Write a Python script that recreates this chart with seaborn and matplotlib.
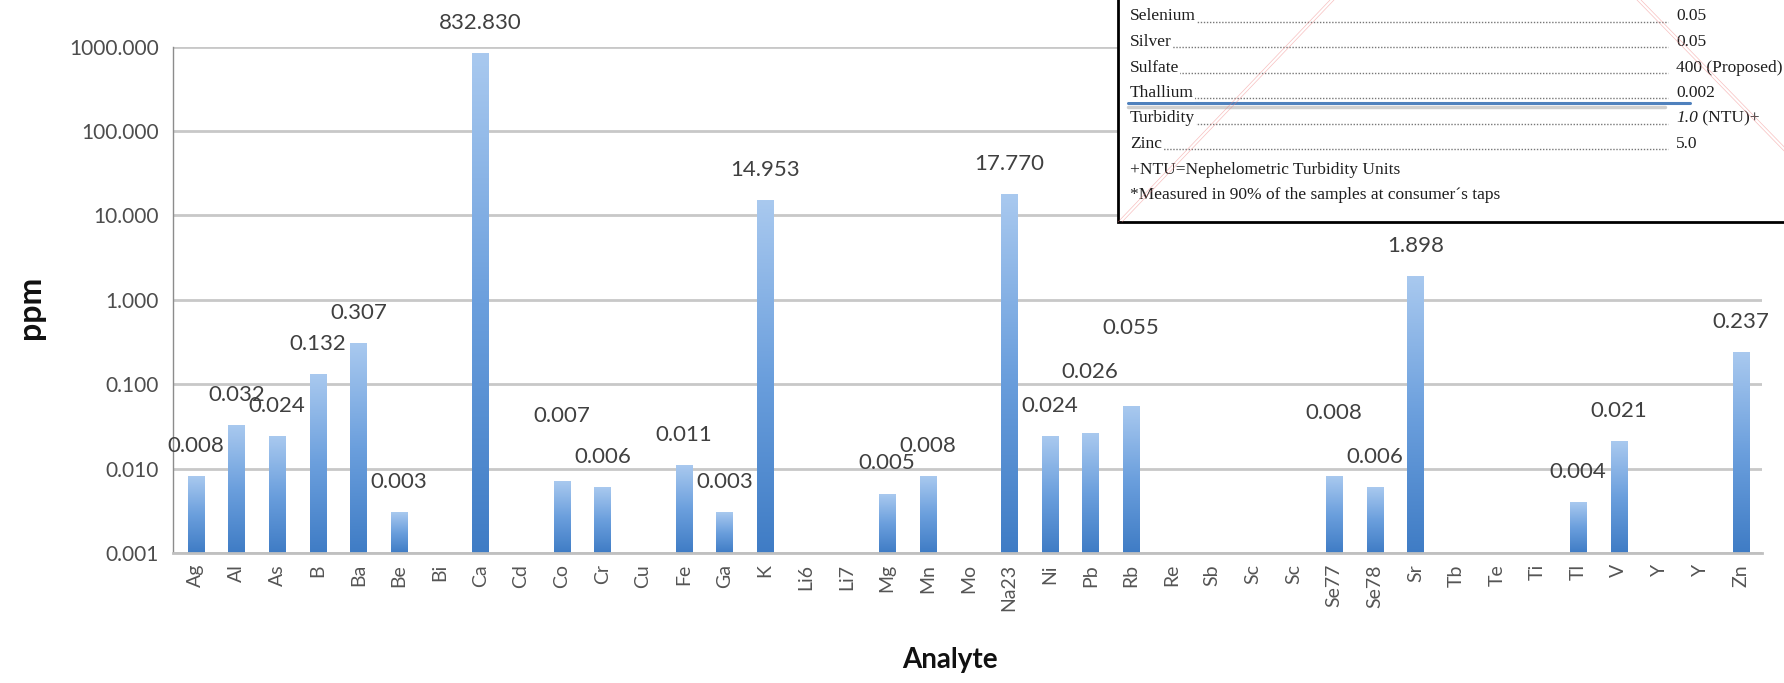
import numpy as np
import pandas as pd
import matplotlib
matplotlib.use("Agg")
import matplotlib.pyplot as plt
from matplotlib.colors import LinearSegmentedColormap
from matplotlib.lines import Line2D
from matplotlib.patches import Rectangle
from matplotlib.ticker import FuncFormatter, NullLocator
import seaborn as sns

nan = np.nan

# ICP-MS results per analyte (ppm); empty slots were below detection
analytes = ["Ag", "Al", "As", "B", "Ba", "Be", "Bi", "Ca", "Cd", "Co", "Cr", "Cu",
            "Fe", "Ga", "K", "Li6", "Li7", "Mg", "Mn", "Mo", "Na23", "Ni", "Pb",
            "Rb", "Re", "Sb", "Sc", "Sc", "Se77", "Se78", "Sr", "Tb", "Te", "Ti",
            "Tl", "V", "Y", "Y", "Zn"]
ppm = [0.008, 0.032, 0.024, 0.132, 0.307, 0.003, nan, 832.830, nan, 0.007, 0.006, nan,
       0.011, 0.003, 14.953, nan, nan, 0.005, 0.008, nan, 17.770, 0.024, 0.026,
       0.055, nan, nan, nan, nan, 0.008, 0.006, 1.898, nan, nan, nan,
       0.004, 0.021, nan, nan, 0.237]
ppm_ticks = [0.001, 0.01, 0.1, 1, 10, 100, 1000]

# Drinking-water limits table (mg/L)
limit_names = ["Selenium", "Silver", "Sulfate", "Thallium", "Turbidity", "Zinc"]
limit_values = ["0.05", "0.05", "400 (Proposed)", "0.002", "1.0", "5.0"]
limit_notes = ["+NTU=Nephelometric Turbidity Units",
               "*Measured in 90% of the samples at consumer\u00b4s taps"]

# value labels that sit higher than the default offset (points)
label_lift = {9: 47, 22: 44, 23: 56, 28: 46}
default_lift = 22

sns.set_style("white")
plt.rcParams["font.family"] = ["Lato", "DejaVu Sans"]

W, H = 1784, 683
fig = plt.figure(figsize=(W / 100, H / 100), dpi=100)
fig.patch.set_facecolor("white")
ax = fig.add_axes([173 / W, 1 - 553 / H, (1762 - 173) / W, (553 - 46.7) / H])
ax.set_yscale("log")

df = pd.DataFrame({"slot": np.arange(len(analytes)), "ppm": ppm})
sns.barplot(data=df, x="slot", y="ppm", order=list(range(len(analytes))),
            color="#5b93d6", width=0.4, errorbar=None, ax=ax)

ax.set_xlim(-0.56, len(analytes) - 0.48)
ax.set_ylim(ppm_ticks[0], ppm_ticks[-1])
ax.set_autoscale_on(False)

# vertical gradient fill for each bar (dark at the base, light at the top)
fill_cmap = LinearSegmentedColormap.from_list(
    "bar_fill", ["#3f7cc5", "#6b9fdd", "#a9c9ef"])
grad = np.linspace(0, 1, 256)[:, None]
to_axes = ax.transData + ax.transAxes.inverted()
for bar in list(ax.patches):
    h = bar.get_height()
    if not np.isfinite(h) or h <= 0:
        continue
    x0 = bar.get_x()
    x1 = x0 + bar.get_width()
    (ax0, ay0), (ax1, ay1) = to_axes.transform([(x0, ppm_ticks[0]), (x1, h)])
    ax.imshow(grad, cmap=fill_cmap, origin="lower", aspect="auto",
              extent=(ax0, ax1, ay0, ay1), transform=ax.transAxes,
              interpolation="bilinear", zorder=2)
    bar.set_visible(False)

for i, v in enumerate(ppm):
    if np.isnan(v):
        continue
    ax.annotate(f"{v:.3f}", xy=(i, v), xytext=(0, label_lift.get(i, default_lift)),
                textcoords="offset points", ha="center", va="center",
                fontsize=16, color="#404040", zorder=4)

# axes styling
ax.set_axisbelow(True)
ax.yaxis.grid(True, color="#c8c8c8", linewidth=2)
ax.xaxis.grid(False)
ax.set_yticks(ppm_ticks)
ax.yaxis.set_minor_locator(NullLocator())
ax.yaxis.set_major_formatter(FuncFormatter(lambda v, _: f"{v:.3f}"))
ax.set_xticks(range(len(analytes)))
ax.set_xticklabels(analytes, rotation=90)
ax.set_xticks(np.arange(-0.5, len(analytes), 1), minor=True)
ax.tick_params(axis="y", which="major", length=4, width=2, color="#c8c8c8",
               pad=6, labelsize=15, labelcolor="#4d4d4d")
ax.tick_params(axis="x", which="major", length=0, pad=8, labelsize=14,
               labelcolor="#555555")
ax.tick_params(axis="x", which="minor", length=4, width=1.2, color="#bbbbbb")
for side in ("top", "right"):
    ax.spines[side].set_visible(False)
ax.spines["left"].set_color("#8c8c8c")
ax.spines["left"].set_linewidth(1)
ax.spines["bottom"].set_color("#c0c0c0")
ax.spines["bottom"].set_linewidth(2)

ax.set_ylabel("ppm", fontsize=23, fontweight="bold", color="#111111")
ax.yaxis.set_label_coords(-0.0895, 0.486)
ax.yaxis.label.set_va("center")
ax.set_xlabel("Analyte", fontsize=20, fontweight="bold", color="#111111")
ax.xaxis.set_label_coords(0.489, -0.211)
ax.xaxis.label.set_va("center")


# limits table pasted over the upper right of the chart
def fx(x):
    return x / W


def fy(y):
    return 1 - y / H


box = Rectangle((fx(1118), fy(222)), 1, 1, transform=fig.transFigure,
                facecolor="white", edgecolor="black", linewidth=2, zorder=5)
fig.add_artist(box)

serif = ["Liberation Serif", "DejaVu Serif"]
row_y0, row_step = 16.5, 25.5
text_x, value_x, leader_end = 1130, 1676, 1668
text_kw = dict(fontsize=12.5, family=serif, color="#1e1e1e", zorder=7)
for k, (name, val) in enumerate(zip(limit_names, limit_values)):
    y = row_y0 + k * row_step
    fig.add_artist(Line2D([fx(text_x), fx(leader_end)], [fy(y + 5), fy(y + 5)],
                          transform=fig.transFigure, color="#777777",
                          linewidth=1, linestyle=(0, (1, 1.2)), zorder=6))
    fig.text(fx(text_x), fy(y), name, ha="left", va="center",
             bbox=dict(facecolor="white", edgecolor="none", pad=0.6), **text_kw)
    if name == "Turbidity":
        t = fig.text(fx(value_x), fy(y), val, ha="left", va="center",
                     style="italic", **text_kw)
        fig.add_artist(plt.Annotation(" (NTU)+", xy=(1, 0.5), xycoords=t,
                                      ha="left", va="center", **text_kw))
    else:
        fig.text(fx(value_x), fy(y), val, ha="left", va="center", **text_kw)
    if name == "Thallium":
        fig.add_artist(Line2D([fx(1128), fx(1665)], [fy(y + 14), fy(y + 14)],
                              transform=fig.transFigure, color="#cfcfcf",
                              linewidth=2.5, zorder=6))
        fig.add_artist(Line2D([fx(1128), fx(1690)], [fy(y + 10), fy(y + 10)],
                              transform=fig.transFigure, color="#4f81bd",
                              linewidth=2.2, zorder=6))

for k, note in enumerate(limit_notes):
    y = row_y0 + (len(limit_names) + k) * row_step
    fig.text(fx(text_x), fy(y), note, ha="left", va="center", **text_kw)

# thin red guide lines crossing the pasted table
for dx in (0, 4):
    fig.add_artist(Line2D([fx(1118 + dx), fx(1330 + dx)], [fy(222), fy(0)],
                          transform=fig.transFigure, color="#f08080",
                          linewidth=0.5, alpha=0.5, zorder=8))
    fig.add_artist(Line2D([fx(1637 + dx), fx(1790 + dx)], [fy(0), fy(157)],
                          transform=fig.transFigure, color="#f08080",
                          linewidth=0.5, alpha=0.5, zorder=8))

fig.savefig("out.png", dpi=100)
